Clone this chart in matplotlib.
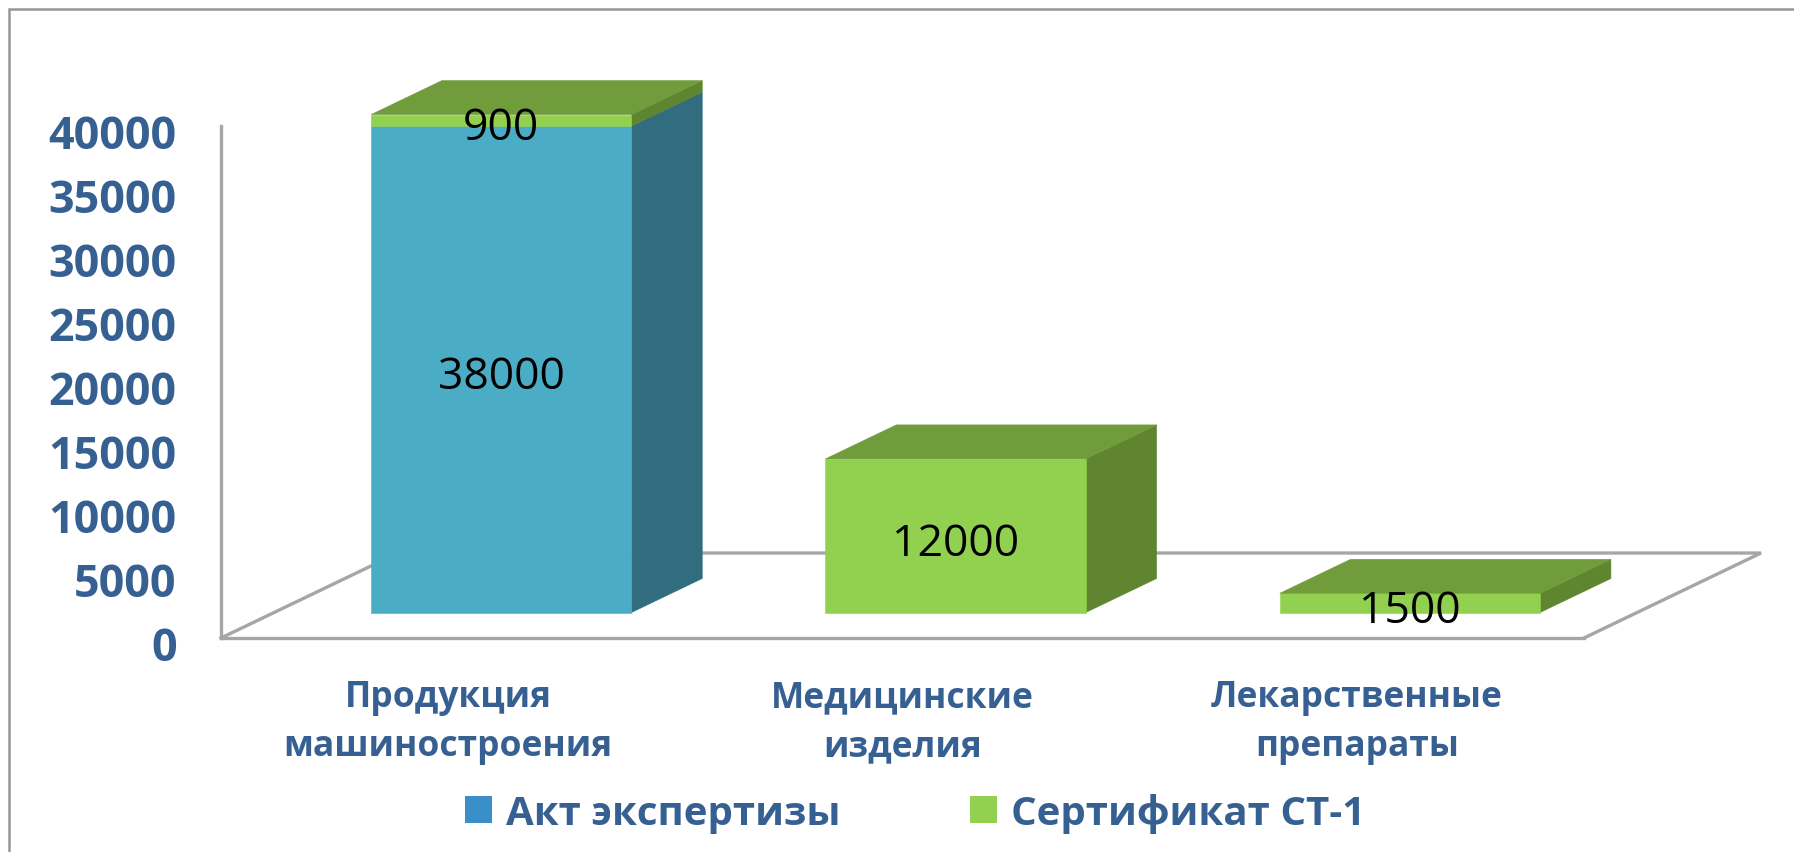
import matplotlib
matplotlib.use("Agg")
import matplotlib.pyplot as plt
from matplotlib.patches import Polygon, Rectangle
from matplotlib.font_manager import FontProperties
from matplotlib.transforms import ScaledTranslation

W, H = 1794, 853
DPI = 100

categories = ["Продукция\nмашиностроения", "Медицинские\nизделия", "Лекарственные\nпрепараты"]
series_names = ["Акт экспертизы", "Сертификат СТ-1"]
act_values = [38000, 0, 0]
cert_values = [900, 12000, 1500]
y_ticks = [0, 5000, 10000, 15000, 20000, 25000, 30000, 35000, 40000]

BLUE_TXT = "#376092"
TEAL = ("#4BACC6", "#316D7F")
GREEN = ("#92D050", "#5F8530", "#709C3C")
LEG = ["#3A8FC9", "#92D050"]
LINE = "#A6A6A6"

plt.rcParams["font.family"] = ["Open Sans", "DejaVu Sans"]
fig = plt.figure(figsize=(W / DPI, H / DPI), dpi=DPI)
fig.patch.set_facecolor("white")

def px_axes(x0, y0, x1, y1):
    return [x0 / W, 1 - y1 / H, (x1 - x0) / W, (y1 - y0) / H]

ax = fig.add_axes(px_axes(221, 127, 1584, 639))
ax.set_xlim(0, 3)
ax.set_ylim(0, 40000)
ax.patch.set_alpha(0)
for s in ("top", "right"):
    ax.spines[s].set_visible(False)
for s in ("left", "bottom"):
    ax.spines[s].set_color(LINE)
    ax.spines[s].set_linewidth(2.4)

DX, DY = 0.3896, 6640  # oblique projection of the depth axis

def proj(x, y, z):
    return (x + DX * z, y + DY * z)

# floor outline
floor = [proj(0, 0, 0), proj(0, 0, 1), proj(3, 0, 1), proj(3, 0, 0)]
ax.plot(*zip(*floor), color=LINE, lw=2.4, clip_on=False, zorder=1, solid_joinstyle="miter")

BW = 0.573
Z0, Z1 = 0.3, 0.7

def face(pts, color):
    ax.add_patch(Polygon(pts, fc=color, ec=color, lw=0.4, clip_on=False, zorder=3))

def box(i, lo, hi, front, side, top=None):
    x0, x1 = i + 0.5 - BW / 2, i + 0.5 + BW / 2
    face([proj(x1, lo, Z0), proj(x1, hi, Z0), proj(x1, hi, Z1), proj(x1, lo, Z1)], side)
    face([proj(x0, lo, Z0), proj(x1, lo, Z0), proj(x1, hi, Z0), proj(x0, hi, Z0)], front)
    if top:
        face([proj(x0, hi, Z0), proj(x1, hi, Z0), proj(x1, hi, Z1), proj(x0, hi, Z1)], top)

def value_label(xy, v):
    ax.annotate(str(v), xy, xytext=(0, -5.6), textcoords="offset points", ha="center", va="center",
                fontsize=32, color="black", zorder=5, annotation_clip=False)

for i, (a, c) in enumerate(zip(act_values, cert_values)):
    if a:
        box(i, 0, a, TEAL[0], TEAL[1])
        value_label(proj(i + 0.5, a / 2, Z0), a)
    box(i, a, a + c, GREEN[0], GREEN[1], GREEN[2])
    value_label(proj(i + 0.5, a + c / 2, Z0), c)

ax.set_yticks(y_ticks)
ax.set_yticklabels([str(v) for v in y_ticks], fontsize=32.3, fontweight="bold", color=BLUE_TXT)
ax.set_xticks([0.5, 1.5, 2.5])
ax.set_xticklabels(categories, fontsize=25.5, fontweight="bold", color=BLUE_TXT, linespacing=1.5)
ax.tick_params(axis="both", length=0)
ax.tick_params(axis="y", pad=32)
ax.tick_params(axis="x", pad=29.5)
shift = ScaledTranslation(0, -3.3 / 72, fig.dpi_scale_trans)
for lab in ax.get_yticklabels():
    lab.set_transform(lab.get_transform() + shift)

handles = [Rectangle((0, 0), 1, 1, fc=LEG[0], ec="none"), Rectangle((0, 0), 1, 1, fc=LEG[1], ec="none")]
fig.legend(handles, series_names, loc="center", bbox_to_anchor=(915 / W, 1 - 814 / H), ncols=2,
           frameon=False, prop=FontProperties(family=["Open Sans", "DejaVu Sans"], weight="bold", size=29),
           labelcolor=BLUE_TXT, handlelength=0.67, handleheight=0.645, handletextpad=0.35,
           columnspacing=3.2, borderpad=0, borderaxespad=0)

# outer frame: left and top edges only
fr = fig.add_axes([0, 0, 1, 1], zorder=-1)
fr.set_xlim(0, W); fr.set_ylim(H, 0); fr.axis("off")
fr.plot([9, 9, W], [H, 9.5, 9.5], color="#969696", lw=1.8, solid_joinstyle="miter")

fig.savefig("out.png", dpi=DPI)
